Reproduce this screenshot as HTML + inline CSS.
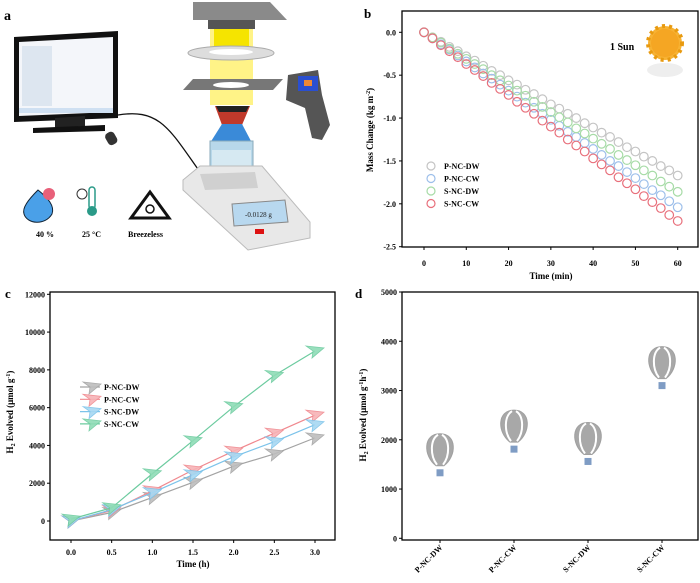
<!DOCTYPE html>
<html><head><meta charset="utf-8"><style>
html,body{margin:0;padding:0;background:#fff;}
svg{display:block;font-family:"Liberation Serif",serif;font-weight:bold;}
</style></head><body>
<svg id="fig" width="700" height="583" viewBox="0 0 700 583">
<g id="panel-a">
  <text x="4" y="20" font-size="14">a</text>
  <g>
    <polygon points="14,37 118,31 118,118 14,122" fill="#111"/>
    <polygon points="19,42 113,37 113,112 19,116" fill="#f4f6fa"/>
    <rect x="22" y="46" width="30" height="60" fill="#dde6f0"/>
    <rect x="19" y="108" width="94" height="5" fill="#cfe0f2"/>
    <polygon points="55,118 85,116 85,126 55,128" fill="#222"/>
    <polygon points="33,128 105,125 105,131 33,133" fill="#111"/>
    <rect x="106" y="132" width="10" height="13" rx="4" fill="#333" transform="rotate(-30 111 138)"/>
  </g>
  <path d="M118,115 C160,108 170,130 200,172" fill="none" stroke="#111" stroke-width="1.3"/>
  <g>
    <polygon points="193,2 270,2 287,20 193,20" fill="#8a8a8a"/>
    <rect x="208" y="20" width="47" height="9" fill="#555"/>
    <rect x="210" y="29" width="43" height="76" fill="#fff27a" opacity="0.9"/>
    <rect x="214" y="29" width="35" height="20" fill="#f5e400"/>
    <ellipse cx="231" cy="53" rx="43" ry="7" fill="#ddd" stroke="#aaa"/>
    <ellipse cx="231" cy="52" rx="22" ry="3" fill="#fff"/>
    <polygon points="193,79 283,79 273,90 183,90" fill="#777"/>
    <ellipse cx="231" cy="85" rx="18" ry="3" fill="#fff"/>
  </g>
  <g>
    <polygon points="215,106 250,106 242,125 222,125" fill="#c0392b"/>
    <polygon points="216,106 249,106 246,112 219,112" fill="#222"/>
    <polygon points="222,124 242,124 252,143 210,143" fill="#3a8ad8"/>
    <rect x="210" y="141" width="43" height="45" fill="#b8d8ea" stroke="#8ab" />
    <rect x="212" y="150" width="39" height="34" fill="#d6e9f2"/>
  </g>
  <g>
    <polygon points="183,180 200,166 262,166 310,222 310,238 248,250 183,190" fill="#e8e8e8" stroke="#bbb"/>
    <polygon points="200,174 255,172 258,188 205,190" fill="#d0d0d0"/>
    <polygon points="232,204 285,200 288,222 234,226" fill="#b8d8ef" stroke="#888"/>
    <text x="245" y="217" font-size="7" font-weight="normal" fill="#222">-0.0128 g</text>
    <rect x="255" y="229" width="9" height="5" fill="#d11"/>
  </g>
  <g>
    <polygon points="288,75 318,70 322,95 330,125 322,140 312,138 305,108 286,100" fill="#555"/>
    <rect x="298" y="76" width="20" height="15" fill="#2a4fd0"/>
    <rect x="304" y="80" width="8" height="6" fill="#e83"/>
  </g>
  <g>
    <path d="M38,190 C28,200 22,208 24,214 C27,224 45,226 52,214 C55,206 48,198 38,190Z" fill="#4aa0e8" stroke="#123" stroke-width="1"/>
    <circle cx="49" cy="194" r="6" fill="#e8607a"/>
  </g>
  <g>
    <circle cx="82" cy="194" r="5" fill="#fff" stroke="#333"/>
    <rect x="89" y="187" width="6" height="22" rx="3" fill="#fff" stroke="#2a9a88" stroke-width="1.5"/>
    <circle cx="92" cy="211" r="5" fill="#2a9a88"/>
  </g>
  <g>
    <polygon points="150,192 169,218 131,218" fill="none" stroke="#111" stroke-width="3"/>
    <circle cx="150" cy="209" r="4" fill="none" stroke="#111" stroke-width="1.5"/>
  </g>
  <text x="36" y="237" font-size="8">40 %</text>
  <text x="82" y="237" font-size="8">25 °C</text>
  <text x="128" y="237" font-size="8">Breezeless</text>
</g>

<g id="panel-b">
  <text x="364" y="18" font-size="13">b</text>
  <rect x="402" y="11" width="296" height="236" fill="none" stroke="#000" stroke-width="1.3"/>
  <g id="b-axes"></g><g id="b-marks"></g>
  <text x="551" y="279" font-size="9" text-anchor="middle">Time (min)</text>
  <text transform="translate(373,130) rotate(-90)" font-size="9" text-anchor="middle">Mass Change (kg m<tspan dy="-3" font-size="6">-2</tspan><tspan dy="3">)</tspan></text>
  <g>
    <ellipse cx="665" cy="70" rx="18" ry="7" fill="#eee"/>
    <circle cx="665" cy="43" r="17" fill="#f7b233" stroke="#e89a10" stroke-width="4" stroke-dasharray="3 4"/>
    <circle cx="665" cy="43" r="14" fill="#f5a623"/>
  </g>
  <text x="610" y="50" font-size="10">1 Sun</text>
  <g id="b-legend"></g>
</g>

<g id="panel-c">
  <text x="5" y="298" font-size="13">c</text>
  <rect x="50" y="292" width="285" height="248" fill="none" stroke="#000" stroke-width="1.3"/>
  <g id="c-axes"></g><g id="c-marks"></g><g id="c-legend"></g>
  <text x="193" y="567" font-size="9" text-anchor="middle">Time (h)</text>
  <text transform="translate(13,412) rotate(-90)" font-size="9" text-anchor="middle">H<tspan dy="2" font-size="6">2</tspan><tspan dy="-2"> Evolved (μmol g</tspan><tspan dy="-3" font-size="6">-1</tspan><tspan dy="3">)</tspan></text>
</g>

<g id="panel-d">
  <text x="355" y="298" font-size="13">d</text>
  <rect x="402" y="292" width="296" height="248" fill="none" stroke="#000" stroke-width="1.3"/>
  <g id="d-axes"></g><g id="d-marks"></g>
  <text transform="translate(366,415) rotate(-90)" font-size="9" text-anchor="middle">H<tspan dy="2" font-size="6">2</tspan><tspan dy="-2"> Evolved (μmol g</tspan><tspan dy="-3" font-size="6">-1</tspan><tspan dy="3">h</tspan><tspan dy="-3" font-size="6">-1</tspan><tspan dy="3">)</tspan></text>
</g>
</svg>
<script>
const bSeriesNames = ["P-NC-DW","P-NC-CW","S-NC-DW","S-NC-CW"];
const bTimes = [0,2,4,6,8,10,12,14,16,18,20,22,24,26,28,30,32,34,36,38,40,42,44,46,48,50,52,54,56,58,60];
const bPNCDW = [0,-0.06,-0.11,-0.17,-0.22,-0.28,-0.33,-0.39,-0.45,-0.50,-0.56,-0.61,-0.67,-0.72,-0.78,-0.84,-0.89,-0.95,-1.00,-1.06,-1.11,-1.17,-1.22,-1.28,-1.34,-1.39,-1.45,-1.50,-1.56,-1.61,-1.67];
const bPNCCW = [0,-0.07,-0.14,-0.20,-0.27,-0.34,-0.41,-0.48,-0.54,-0.61,-0.68,-0.75,-0.82,-0.88,-0.95,-1.02,-1.09,-1.16,-1.22,-1.29,-1.36,-1.43,-1.50,-1.56,-1.63,-1.70,-1.77,-1.84,-1.90,-1.97,-2.04];
const bSNCDW = [0,-0.06,-0.12,-0.19,-0.25,-0.31,-0.37,-0.43,-0.50,-0.56,-0.62,-0.68,-0.74,-0.81,-0.87,-0.93,-0.99,-1.05,-1.12,-1.18,-1.24,-1.30,-1.36,-1.43,-1.49,-1.55,-1.61,-1.67,-1.74,-1.80,-1.86];
const bSNCCW = [0,-0.07,-0.15,-0.22,-0.29,-0.37,-0.44,-0.51,-0.59,-0.66,-0.73,-0.81,-0.88,-0.95,-1.03,-1.10,-1.17,-1.25,-1.32,-1.39,-1.47,-1.54,-1.61,-1.69,-1.76,-1.83,-1.91,-1.98,-2.05,-2.13,-2.20];
const bXTicks = [0,10,20,30,40,50,60];
const bYTicks = [0.0,-0.5,-1.0,-1.5,-2.0,-2.5];
const bYTickLabels = ["0.0","-0.5","-1.0","-1.5","-2.0","-2.5"];
const cSeriesNames = ["P-NC-DW","P-NC-CW","S-NC-DW","S-NC-CW"];
const cTimes = [0,0.5,1.0,1.5,2.0,2.5,3.0];
const cPNCDW = [0,450,1250,2050,2900,3550,4400];
const cPNCCW = [0,550,1600,2700,3700,4650,5600];
const cSNCDW = [0,600,1500,2450,3400,4200,5100];
const cSNCCW = [100,700,2500,4250,6050,7700,9000];
const cXTicks = [0,0.5,1.0,1.5,2.0,2.5,3.0];
const cXTickLabels = ["0.0","0.5","1.0","1.5","2.0","2.5","3.0"];
const cYTicks = [0,2000,4000,6000,8000,10000,12000];
const dCategories = ["P-NC-DW","P-NC-CW","S-NC-DW","S-NC-CW"];
const dValues = [1330,1810,1560,3100];
const dYTicks = [0,1000,2000,3000,4000,5000];

const NS="http://www.w3.org/2000/svg";
function mk(tag, attrs, parent, txt){const e=document.createElementNS(NS,tag);for(const k in attrs)e.setAttribute(k,attrs[k]);if(txt!==undefined)e.textContent=txt;parent.appendChild(e);return e;}

const bx = t => 424 + (t-0)*(677.7-424)/60;
const by = v => 32.3 + (0-v)*(246.7-32.3)/2.5;
const bAxes=document.getElementById('b-axes');
bXTicks.forEach(t=>{
  const l=mk('line',{x1:bx(t),x2:bx(t),y1:247,y2:250,stroke:'#000'},bAxes);
  
  
  const tx=mk('text',{x:bx(t),y:266,'font-size':8,'text-anchor':'middle'},bAxes,String(t));
  
  
});
bYTicks.forEach((v,i)=>{
  const l=mk('line',{x1:399,x2:402,y1:by(v),y2:by(v),stroke:'#000'},bAxes);
  
  
  const tx=mk('text',{x:396,y:by(v)+3,'font-size':8,'text-anchor':'end'},bAxes,bYTickLabels[i]);
  
  
});
const bColors=['#c4c4c4','#9dbfea','#a6dba6','#e8707c'];
const bData=[bPNCDW,bPNCCW,bSNCDW,bSNCCW];
const bMarks=document.getElementById('b-marks');
bData.forEach((s,si)=>{
  const g=mk('g',{},bMarks);
  
  
  s.forEach((v,i)=>{
    const c=mk('circle',{cx:bx(bTimes[i]),cy:by(v),r:4.3,fill:'none',stroke:bColors[si],'stroke-width':1.2},g);
    
    
  });
});
const bLeg=document.getElementById('b-legend');
bSeriesNames.forEach((n,i)=>{
  const y=166+i*12.5;
  const c=mk('circle',{cx:431,cy:y,r:4,fill:'none',stroke:bColors[i],'stroke-width':1.2},bLeg);
  
  
  const t=mk('text',{x:444,y:y+3,'font-size':8},bLeg,n);
  
  
});

const cx_ = t => 71 + t*(315-71)/3;
const cy_ = v => 521 - v*(521-294.3)/12000;
const cAxes=document.getElementById('c-axes');
cXTicks.forEach((t,i)=>{
  const l=mk('line',{x1:cx_(t),x2:cx_(t),y1:540,y2:543,stroke:'#000'},cAxes);
  
  
  const tx=mk('text',{x:cx_(t),y:555,'font-size':8,'text-anchor':'middle'},cAxes,cXTickLabels[i]);
  
  
});
cYTicks.forEach(v=>{
  const l=mk('line',{x1:47,x2:50,y1:cy_(v),y2:cy_(v),stroke:'#000'},cAxes);
  
  
  const tx=mk('text',{x:45,y:cy_(v)+3,'font-size':8,'text-anchor':'end'},cAxes,String(v));
  
  
});
const cColors=['#a3a3a3','#f0888e','#7cc3ea','#6ccb9f'];
const cFill=['#bdbdbd','#f7b3b6','#a7d8f2','#8fdcb6'];
const cData=[cPNCDW,cPNCCW,cSNCDW,cSNCCW];
const cMarks=document.getElementById('c-marks');
function plane(g,x,y,si){
  return mk('polygon',{points:`${x-9},${y-5} ${x+9},${y-3} ${x-3},${y+7} ${x-2},${y}`,fill:cFill[si],stroke:cColors[si],'stroke-width':0.8,opacity:0.9},g);
}
cData.forEach((s,si)=>{
  const g=mk('g',{},cMarks);
  
  
  const pl=mk('polyline',{points:s.map((v,i)=>cx_(cTimes[i])+','+cy_(v)).join(' '),fill:'none',stroke:cColors[si],'stroke-width':1.2},g);
  
  
  s.forEach((v,i)=>{
    const p=plane(g,cx_(cTimes[i]),cy_(v),si);
    
    
  });
});
const cLeg=document.getElementById('c-legend');
cSeriesNames.forEach((n,i)=>{
  const y=387+i*12.3;
  const l=mk('line',{x1:80,x2:100,y1:y,y2:y,stroke:cColors[i],'stroke-width':1.2},cLeg);
  
  
  const p=plane(cLeg,92,y,i);
  
  
  const t=mk('text',{x:104,y:y+3,'font-size':8},cLeg,n);
  
  
});

const dx = i => 440 + i*74;
const dy = v => 538.3 - v*(538.3-292)/5000;
const dAxes=document.getElementById('d-axes');
dYTicks.forEach(v=>{
  const l=mk('line',{x1:399,x2:402,y1:dy(v),y2:dy(v),stroke:'#000'},dAxes);
  
  
  const tx=mk('text',{x:397,y:dy(v)+3,'font-size':8,'text-anchor':'end'},dAxes,String(v));
  
  
});
dCategories.forEach((c,i)=>{
  const l=mk('line',{x1:dx(i),x2:dx(i),y1:540,y2:543,stroke:'#000'},dAxes);
  
  
  const tx=mk('text',{x:dx(i)+3,y:548,'font-size':8,'text-anchor':'end',transform:`rotate(-45 ${dx(i)+3} 548)`},dAxes,c);
  
  
});
const dMarks=document.getElementById('d-marks');
dValues.forEach((v,i)=>{
  const x=dx(i), y=dy(v);
  const g=mk('g',{},dMarks);
  
  
  const b=mk('path',{d:`M${x-4},${y-7} C${x-17},${y-17} ${x-17},${y-39} ${x},${y-39} C${x+17},${y-39} ${x+17},${y-17} ${x+4},${y-7} Z`,fill:'#a8a8a8',stroke:'#a0a0a0'},g);
  
  
  mk('path',{d:`M${x-3},${y-8} C${x-10},${y-17} ${x-10},${y-33} ${x-2},${y-38}`,fill:'none',stroke:'#fff','stroke-width':2},g);
  mk('path',{d:`M${x+3},${y-8} C${x+10},${y-17} ${x+10},${y-33} ${x+2},${y-38}`,fill:'none',stroke:'#fff','stroke-width':2},g);
  const s=mk('rect',{x:x-3.5,y:y-3.5,width:7,height:7,fill:'#7f9cc4'},g);
  
  
});
</script>
</body></html>
